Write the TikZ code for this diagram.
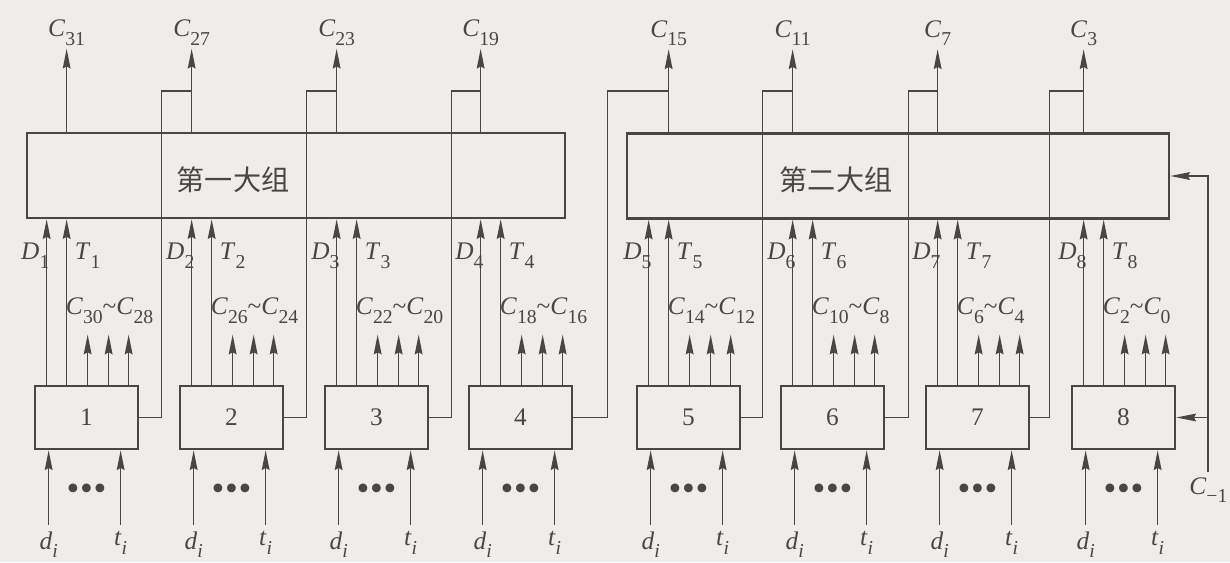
\documentclass[tikz,border=0pt]{standalone}
\usepackage{fontspec}
\setmainfont{Liberation Serif}
\newfontfamily\cjk{Noto Sans CJK SC}
\usetikzlibrary{arrows.meta, positioning, calc}
\definecolor{bg}{HTML}{EEEDE9}
\definecolor{ink}{HTML}{4A4646}
\newcommand{\vsub}[2]{\textit{#1}\raisebox{-6pt}{\fontsize{14}{14}\selectfont #2}}

\begin{document}
\begin{tikzpicture}[x=0.025cm, y=-0.025cm,
    every node/.style={font=\fontsize{18}{20}\selectfont, text=ink},
    wire/.style={draw=ink, line width=1pt},
    arr/.style={wire, -{Stealth[length=14pt, width=5.5pt, inset=1.5pt]}},
    rarr/.style={wire, {Stealth[length=14pt, width=5.5pt, inset=1.5pt]}-},
    unit/.style={draw=ink, line width=1.9pt, minimum width=2.575cm, minimum height=1.575cm, inner sep=0pt},
    grp/.style={draw=ink, line width=1.7pt, minimum height=2.125cm, inner sep=0pt}]
    \fill[bg] (0,0) rectangle (1230,562);
    \useasboundingbox (0,0) rectangle (1230,562);

    \node[grp, minimum width=13.45cm] (g1) at (296,175.5) {};
    \node[grp, minimum width=13.55cm] (g2) at (898,176) {};
    \node[font=\cjk\fontsize{20}{20}\selectfont] (n1) at (233,180) {第一大组};
    \node[font=\cjk\fontsize{20}{20}\selectfont] (n2) at (836,180) {第二大组};
    \coordinate (ly) at (0,91);

    % eight small adders
    \foreach \i/\L/\g in {1/35/g1, 2/180/g1, 3/325/g1, 4/469/g1, 5/637/g2, 6/781/g2, 7/926/g2, 8/1072/g2} {
        \pgfmathtruncatemacro{\hi}{34-4*\i}
        \pgfmathtruncatemacro{\lo}{32-4*\i}
        \node[unit] (b\i) at (\L+51.5,417.5) {\i};
        \coordinate (dp\i) at ($(b\i.north west)+(13,0)$);
        \coordinate (tp\i) at ($(b\i.north west)+(33,0)$);
        \draw[arr] (dp\i) -- (dp\i |- \g.south);
        \draw[arr] (tp\i) -- (tp\i |- \g.south);
        \node[anchor=east, inner sep=0pt] at ($(dp\i)+(3,-129)$) {\vsub{D}{\i}};
        \node[anchor=west, inner sep=0pt] at ($(tp\i)+(8,-129)$) {\vsub{T}{\i}};
        \node[anchor=west, inner sep=0pt] at ($(tp\i)+(-1,-74)$) {\vsub{C}{\hi}\textasciitilde\vsub{C}{\lo}};
        \foreach \dx in {54,75,95}
            \draw[arr] ($(b\i.north west)+(\dx,0)$) -- ++(0,-50);
        \draw[rarr] ($(b\i.south west)+(15,0)$) -- ++(0,75) node[below, inner sep=4pt] {\vsub{d}{\textit{i}}};
        \draw[rarr] ($(b\i.south west)+(87,0)$) -- ++(0,75) node[below, inner sep=4pt] {\vsub{t}{\textit{i}}};
        \node[font=\fontsize{26}{26}\selectfont] (dots\i) at ($(b\i.south)+(0,42)$) {•\kern0.5pt•\kern0.5pt•};
    }

    % carry lines
    \foreach \i/\dx/\p in {1/22/dp2, 2/22/dp3, 3/22/dp4, 4/34/tp5, 5/21/dp6, 6/23/dp7, 7/19/dp8}
        \draw[wire] (b\i.east) -- ++(\dx,0) |- (\p |- ly);

    % outputs
    \foreach \c/\p/\g in {31/tp1/g1, 27/dp2/g1, 23/dp3/g1, 19/dp4/g1, 15/tp5/g2, 11/dp6/g2, 7/dp7/g2, 3/dp8/g2}
        \draw[arr] (\p |- \g.north) -- ++(0,-83) node[above, inner sep=2pt] {\vsub{C}{\c}};

    % incoming carry
    \coordinate (cin) at (1208,472);
    \node[anchor=west, inner sep=0pt] (cinl) at (1189,490) {\vsub{C}{−1}};
    \draw[arr] (cin) |- (g2.east);
    \draw[arr] (cin |- b8.east) -- (b8.east);
\end{tikzpicture}
\end{document}
